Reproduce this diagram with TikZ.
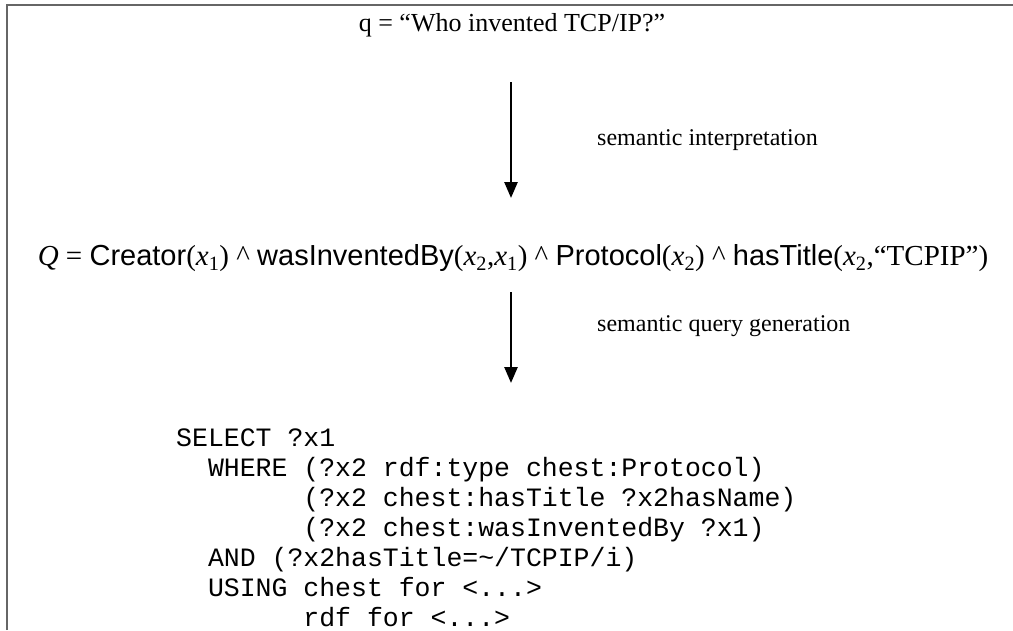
\documentclass[tikz,border=0pt]{standalone}
\usepackage{fontspec}
\setmainfont{Liberation Serif}
\setsansfont{Liberation Sans}
\setmonofont{Liberation Mono}
\usetikzlibrary{arrows.meta,positioning}

\newcommand{\va}[1]{\textit{x}\textsubscript{#1}}

\begin{document}
\begin{tikzpicture}[x=1pt, y=-1pt, >={Triangle[width=13pt,length=16pt]},
    txt/.style={inner sep=0pt, font=\fontsize{26}{30}\selectfont},
    note/.style={inner sep=0pt, anchor=west, font=\fontsize{24}{28}\selectfont},
    code/.style={inner sep=0pt, anchor=north west, align=left,
        font=\ttfamily\fontsize{26.5}{30}\selectfont},
    flow/.style={->, line width=2.6pt}]
  \useasboundingbox (0,0) rectangle (1013,630);

  % frame
  \draw[black!60, line width=1.6pt] (7,630) -- (7,5) -- (1013,5);

  \node[txt] (q) at (512,25) {q = “Who invented TCP/IP?”};
  \node[txt, font=\fontsize{29}{33}\selectfont] (Q) at (513,258) {\textit{Q} = \textsf{Creator}(\va{1}) \textasciicircum{}
      \textsf{wasInventedBy}(\va{2},\va{1}) \textasciicircum{} \textsf{Protocol}(\va{2})
      \textasciicircum{} \textsf{hasTitle}(\va{2},“TCPIP”)};
  \node[code] (sparql) at (176,429) {SELECT ?x1\\
~~WHERE (?x2 rdf:type chest:Protocol)\\
~~~~~~~~(?x2 chest:hasTitle ?x2hasName)\\
~~~~~~~~(?x2 chest:wasInventedBy ?x1)\\
~~AND (?x2hasTitle=\textasciitilde/TCPIP/i)\\
~~USING chest for <...>\\
~~~~~~~~rdf for <...>};

  \coordinate (i1) at (511,82);
  \coordinate (i2) at (511,198);
  \coordinate (g1) at (511,292);
  \coordinate (g2) at (511,383);
  \draw[flow] (i1) -- (i2);
  \draw[flow] (g1) -- (g2);

  \node[note] (interp) at (597,140) {semantic interpretation};
  \node[note] (gen) at (597,326) {semantic query generation};
\end{tikzpicture}
\end{document}
